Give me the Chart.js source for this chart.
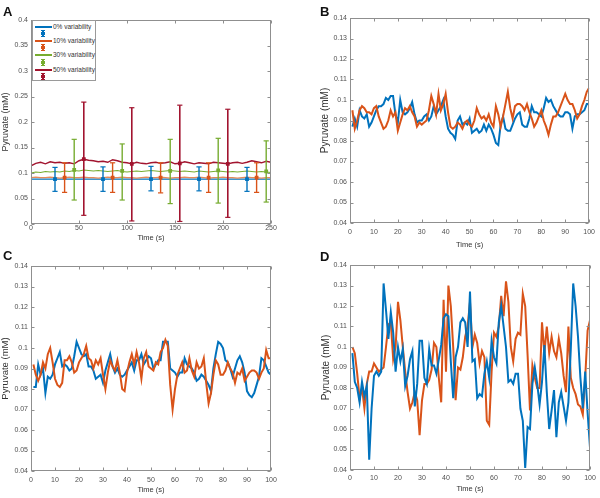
<!DOCTYPE html>
<html>
<head>
<meta charset="utf-8">
<script src="https://cdn.jsdelivr.net/npm/chart.js@4.4.0/dist/chart.umd.min.js"></script>
<style>
html,body{margin:0;padding:0;background:#fff;}
#fig{position:relative;width:600px;height:498px;overflow:hidden;font-family:"Liberation Sans",Arial,sans-serif;}
#fig canvas{position:absolute;}
.tag{position:absolute;font-weight:bold;font-size:13px;line-height:13px;color:#111;}
#legendA{position:absolute;left:32px;top:20px;width:62px;height:59px;border:1px solid #9a9a9a;background:#fff;}
.lgLine{position:absolute;left:2px;width:17px;height:1.5px;}
.lgText{position:absolute;left:20px;font-size:6.5px;line-height:7px;color:#333;white-space:nowrap;}
.lgBar{position:absolute;left:9px;width:1.5px;height:6px;}
.lgCap{position:absolute;left:7.5px;width:4.5px;height:1px;}
.lgDot{position:absolute;left:8px;width:3.5px;height:3px;}
</style>
</head>
<body>
<div id="fig">
  <canvas id="chartA" width="300" height="249" style="left:0;top:0"></canvas>
  <canvas id="chartB" width="300" height="249" style="left:300px;top:0"></canvas>
  <canvas id="chartC" width="300" height="249" style="left:0;top:249px"></canvas>
  <canvas id="chartD" width="300" height="249" style="left:300px;top:249px"></canvas>
  <div class="tag" style="left:3px;top:5px">A</div>
  <div class="tag" style="left:320px;top:5px">B</div>
  <div class="tag" style="left:3px;top:249px">C</div>
  <div class="tag" style="left:320px;top:250px">D</div>
  <div id="legendA"></div>
</div>
<script>
const FONT = '"Liberation Sans", Arial, sans-serif';
const BLUE = "#0072BD";
const ORANGE = "#D95319";
const GREEN = "#77AC30";
const CRIMSON = "#A2142F";
const AXIS_COLOR = "#8f8f8f";
const TICK_COLOR = "#505050";

// ---- panel A: mean traces (every 5 s) ----
const timeA = [0,5,10,15,20,25,30,35,40,45,50,55,60,65,70,75,80,85,90,95,100,105,110,115,120,125,130,135,140,145,150,155,160,165,170,175,180,185,190,195,200,205,210,215,220,225,230,235,240,245,250];
const aBlue = [0.088,0.088,0.088,0.088,0.088,0.088,0.088,0.088,0.088,0.088,0.088,0.088,0.088,0.088,0.088,0.088,0.088,0.088,0.088,0.088,0.088,0.088,0.088,0.088,0.088,0.088,0.088,0.088,0.088,0.088,0.088,0.088,0.088,0.088,0.088,0.088,0.088,0.088,0.088,0.088,0.088,0.088,0.088,0.088,0.088,0.088,0.088,0.088,0.088,0.088,0.088];
const aOrange = [0.091,0.092,0.091,0.091,0.092,0.091,0.090,0.091,0.092,0.091,0.091,0.092,0.091,0.091,0.090,0.091,0.092,0.091,0.091,0.092,0.091,0.091,0.090,0.091,0.092,0.091,0.091,0.092,0.091,0.090,0.091,0.091,0.092,0.091,0.091,0.092,0.091,0.090,0.091,0.091,0.092,0.091,0.091,0.090,0.091,0.092,0.091,0.091,0.090,0.091,0.091];
const aGreen = [0.100,0.102,0.101,0.103,0.102,0.103,0.102,0.104,0.103,0.105,0.104,0.106,0.105,0.104,0.105,0.104,0.103,0.104,0.105,0.103,0.102,0.103,0.104,0.103,0.104,0.105,0.104,0.103,0.104,0.105,0.104,0.103,0.104,0.103,0.102,0.104,0.103,0.102,0.103,0.104,0.103,0.102,0.103,0.102,0.103,0.104,0.103,0.102,0.103,0.102,0.101];
const aCrimson = [0.114,0.119,0.121,0.118,0.122,0.120,0.121,0.119,0.120,0.118,0.124,0.127,0.125,0.124,0.122,0.123,0.121,0.126,0.124,0.121,0.120,0.118,0.121,0.119,0.118,0.120,0.121,0.119,0.120,0.122,0.118,0.119,0.122,0.120,0.118,0.120,0.119,0.118,0.121,0.120,0.119,0.118,0.120,0.121,0.119,0.121,0.124,0.122,0.120,0.123,0.121];

// ---- panel A: error bars ----
const errBlueX = [25,75,125,175,225];
const errBlueMean = [0.088,0.088,0.088,0.088,0.088];
const errBlueLow = [0.064,0.064,0.065,0.065,0.064];
const errBlueHigh = [0.111,0.112,0.113,0.112,0.111];
const errOrangeX = [35,85,135,185,235];
const errOrangeMean = [0.091,0.091,0.091,0.091,0.091];
const errOrangeLow = [0.062,0.062,0.061,0.062,0.062];
const errOrangeHigh = [0.120,0.120,0.120,0.120,0.120];
const errGreenX = [45,95,145,195,245];
const errGreenMean = [0.106,0.104,0.104,0.105,0.103];
const errGreenLow = [0.047,0.047,0.040,0.041,0.043];
const errGreenHigh = [0.166,0.157,0.166,0.168,0.163];
const errCrimsonX = [55,105,155,205];
const errCrimsonMean = [0.127,0.118,0.119,0.118];
const errCrimsonLow = [0.017,0.006,0.005,0.013];
const errCrimsonHigh = [0.239,0.228,0.233,0.225];

const legendLabels = ["0% variability","10% variability","30% variability","50% variability"];
const legendColors = [BLUE, ORANGE, GREEN, CRIMSON];

// ---- panels B, C, D: single traces, t = 1..100 s ----
const timeSteps = [1,2,3,4,5,6,7,8,9,10,11,12,13,14,15,16,17,18,19,20,21,22,23,24,25,26,27,28,29,30,31,32,33,34,35,36,37,38,39,40,41,42,43,44,45,46,47,48,49,50,51,52,53,54,55,56,57,58,59,60,61,62,63,64,65,66,67,68,69,70,71,72,73,74,75,76,77,78,79,80,81,82,83,84,85,86,87,88,89,90,91,92,93,94,95,96,97,98,99,100];

const bBlue = [0.087,0.091,0.087,0.095,0.092,0.091,0.093,0.087,0.089,0.092,
  0.095,0.097,0.097,0.098,0.101,0.100,0.102,0.102,0.093,0.089,
  0.100,0.094,0.093,0.094,0.096,0.099,0.093,0.089,0.090,0.090,
  0.092,0.093,0.090,0.092,0.097,0.093,0.095,0.097,0.100,0.092,
  0.086,0.084,0.083,0.081,0.090,0.092,0.088,0.089,0.088,0.091,
  0.084,0.085,0.086,0.084,0.085,0.088,0.085,0.088,0.086,0.083,
  0.079,0.078,0.088,0.092,0.086,0.085,0.085,0.088,0.091,0.093,
  0.094,0.088,0.087,0.087,0.091,0.097,0.094,0.094,0.093,0.092,
  0.096,0.101,0.099,0.100,0.097,0.095,0.093,0.092,0.092,0.094,
  0.094,0.093,0.086,0.092,0.093,0.093,0.094,0.095,0.098,0.098];
const bOrange = [0.095,0.086,0.090,0.095,0.097,0.096,0.094,0.094,0.093,0.096,
  0.097,0.092,0.089,0.086,0.087,0.090,0.095,0.092,0.094,0.085,
  0.089,0.093,0.096,0.095,0.097,0.094,0.092,0.087,0.089,0.088,
  0.089,0.090,0.095,0.102,0.098,0.093,0.103,0.095,0.098,0.103,
  0.094,0.087,0.086,0.087,0.089,0.088,0.086,0.089,0.090,0.088,
  0.087,0.090,0.096,0.093,0.091,0.092,0.090,0.093,0.089,0.087,
  0.097,0.093,0.087,0.092,0.098,0.104,0.096,0.091,0.097,0.098,
  0.098,0.097,0.095,0.098,0.094,0.091,0.087,0.089,0.092,0.095,
  0.090,0.087,0.083,0.088,0.092,0.092,0.094,0.097,0.100,0.103,
  0.100,0.098,0.098,0.095,0.091,0.093,0.097,0.100,0.104,0.106];

const cBlue = [0.081,0.081,0.092,0.087,0.090,0.078,0.086,0.085,0.087,0.092,
  0.095,0.098,0.091,0.092,0.091,0.089,0.090,0.096,0.103,0.100,
  0.097,0.096,0.097,0.091,0.091,0.089,0.085,0.086,0.087,0.083,
  0.089,0.093,0.097,0.091,0.088,0.090,0.087,0.086,0.087,0.089,
  0.091,0.093,0.089,0.094,0.094,0.097,0.092,0.094,0.096,0.095,
  0.090,0.092,0.094,0.094,0.103,0.103,0.103,0.090,0.089,0.088,
  0.086,0.088,0.088,0.095,0.092,0.091,0.090,0.088,0.084,0.085,
  0.087,0.086,0.084,0.082,0.079,0.090,0.097,0.103,0.102,0.100,
  0.094,0.093,0.090,0.086,0.090,0.094,0.096,0.093,0.088,0.079,
  0.077,0.076,0.078,0.082,0.086,0.095,0.094,0.091,0.088,0.087];
const cOrange = [0.092,0.087,0.084,0.087,0.093,0.090,0.097,0.100,0.093,0.085,
  0.082,0.081,0.083,0.094,0.094,0.096,0.093,0.088,0.089,0.093,
  0.095,0.097,0.101,0.095,0.094,0.090,0.094,0.092,0.095,0.087,
  0.080,0.088,0.094,0.091,0.089,0.094,0.088,0.080,0.079,0.088,
  0.093,0.097,0.092,0.098,0.093,0.085,0.095,0.098,0.091,0.090,
  0.089,0.093,0.092,0.098,0.100,0.104,0.101,0.082,0.070,0.080,
  0.087,0.090,0.093,0.088,0.089,0.095,0.089,0.086,0.093,0.090,
  0.091,0.095,0.083,0.073,0.078,0.087,0.094,0.092,0.087,0.087,
  0.089,0.093,0.090,0.088,0.083,0.088,0.087,0.090,0.084,0.086,
  0.088,0.089,0.089,0.088,0.085,0.088,0.090,0.099,0.095,0.095];

const dBlue = [0.097,0.083,0.080,0.073,0.083,0.076,0.081,0.045,0.070,0.086,
  0.088,0.086,0.088,0.131,0.118,0.104,0.117,0.107,0.088,0.100,
  0.093,0.099,0.081,0.086,0.094,0.098,0.071,0.082,0.103,0.103,
  0.085,0.082,0.099,0.091,0.091,0.087,0.094,0.101,0.114,0.116,
  0.115,0.093,0.075,0.095,0.100,0.112,0.114,0.112,0.100,0.127,
  0.093,0.094,0.075,0.077,0.076,0.087,0.093,0.085,0.103,0.095,
  0.092,0.112,0.120,0.110,0.100,0.083,0.084,0.082,0.087,0.087,
  0.070,0.064,0.041,0.061,0.060,0.082,0.090,0.082,0.072,0.083,
  0.101,0.078,0.060,0.069,0.079,0.056,0.073,0.078,0.071,0.064,
  0.073,0.099,0.131,0.120,0.105,0.085,0.070,0.088,0.068,0.051];
const dOrange = [0.100,0.097,0.087,0.075,0.080,0.070,0.082,0.088,0.088,0.092,
  0.090,0.088,0.089,0.090,0.100,0.111,0.112,0.094,0.100,0.122,
  0.113,0.100,0.088,0.078,0.070,0.073,0.078,0.074,0.057,0.074,
  0.082,0.082,0.084,0.089,0.102,0.100,0.085,0.073,0.123,0.088,
  0.130,0.120,0.100,0.074,0.090,0.089,0.095,0.105,0.110,0.122,
  0.100,0.106,0.102,0.092,0.098,0.095,0.064,0.062,0.088,0.107,
  0.105,0.110,0.125,0.115,0.132,0.122,0.100,0.093,0.104,0.107,
  0.106,0.126,0.120,0.096,0.069,0.091,0.085,0.080,0.080,0.112,
  0.097,0.110,0.097,0.105,0.098,0.095,0.104,0.097,0.086,0.078,
  0.110,0.085,0.080,0.077,0.072,0.071,0.067,0.085,0.108,0.113];

function el(id){ return document.getElementById(id); }

function toPoints(xs, ys){
  return xs.map((x, i) => ({ x, y: ys[i] }));
}

function trace(xs, ys, color, width){
  return { data: toPoints(xs, ys), borderColor: color, borderWidth: width, pointRadius: 0, fill: false, order: 1 };
}

// one dataset per error bar: low cap, mean marker, high cap
function errorBars(xs, means, lows, highs, color, width){
  return xs.map((x, i) => ({
    data: [{ x, y: lows[i] }, { x, y: means[i] }, { x, y: highs[i] }],
    borderColor: color,
    borderWidth: width,
    pointStyle: ["line", "rect", "line"],
    pointRadius: [2.6, 1.8, 2.6],
    pointBorderColor: color,
    pointBackgroundColor: color,
    pointBorderWidth: 1.2,
    order: 0
  }));
}

// MATLAB-like box with inward ticks on all four sides
const boxPlugin = {
  id: "box",
  afterDraw(chart){
    const { ctx, chartArea: a, scales: { x, y } } = chart;
    const L = Math.round(a.left) + 0.5, R = Math.round(a.right) - 0.5;
    const T = Math.round(a.top) + 0.5, B = Math.round(a.bottom) - 0.5;
    ctx.save();
    ctx.strokeStyle = AXIS_COLOR;
    ctx.lineWidth = 1;
    ctx.strokeRect(L, T, R - L, B - T);
    ctx.beginPath();
    x.ticks.forEach(t => {
      const px = Math.round(x.getPixelForValue(t.value)) + 0.5;
      ctx.moveTo(px, B); ctx.lineTo(px, B - 3);
      ctx.moveTo(px, T); ctx.lineTo(px, T + 3);
    });
    y.ticks.forEach(t => {
      const py = Math.round(y.getPixelForValue(t.value)) + 0.5;
      ctx.moveTo(L, py); ctx.lineTo(L + 3, py);
      ctx.moveTo(R, py); ctx.lineTo(R - 3, py);
    });
    ctx.stroke();
    ctx.restore();
  }
};

function makePanel(id, p){
  return new Chart(el(id), {
    type: "line",
    data: { datasets: p.datasets },
    options: {
      responsive: false,
      animation: false,
      devicePixelRatio: 1,
      layout: { padding: { top: p.padTop, right: p.padRight, left: 0, bottom: 0 } },
      plugins: { legend: { display: false }, tooltip: { enabled: false } },
      elements: { line: { tension: 0 } },
      scales: {
        x: {
          type: "linear", min: p.xMin, max: p.xMax,
          ticks: { stepSize: p.xStep, color: TICK_COLOR, font: { size: 7, family: FONT }, padding: p.xTickPad, maxRotation: 0, autoSkip: false },
          grid: { display: false, drawTicks: false },
          border: { display: false },
          title: { display: true, text: "Time (s)", color: "#333", font: { size: 7.5, family: FONT }, padding: { top: 0, bottom: p.xTitlePad } },
          afterFit: s => { s.height = p.xAxisH; }
        },
        y: {
          type: "linear", min: p.yMin, max: p.yMax,
          ticks: { stepSize: p.yStep, color: TICK_COLOR, font: { size: 7, family: FONT }, padding: 3, autoSkip: false,
                   callback: v => String(Number(v.toFixed(3))) },
          grid: { display: false, drawTicks: false },
          border: { display: false },
          title: { display: true, text: "Pyruvate (mM)", color: "#333", font: { size: p.yTitleSize, family: FONT }, padding: { top: p.yTitlePad, bottom: 0 } },
          afterFit: s => { s.width = p.yAxisW; }
        }
      }
    },
    plugins: [boxPlugin]
  });
}

function buildLegend(){
  const box = el("legendA");
  const lineY = [5, 19, 33, 48];
  const iconY = [12, 26, 41, 55];
  box.innerHTML = legendLabels.map((lab, i) => {
    const c = legendColors[i];
    const iy = iconY[i];
    return `
      <div class="lgLine" style="top:${lineY[i]}px;background:${c}"></div>
      <div class="lgText" style="top:${lineY[i] - 3}px">${lab}</div>
      <div class="lgBar" style="top:${iy - 3}px;background:${c}"></div>
      <div class="lgCap" style="top:${iy - 3}px;background:${c}"></div>
      <div class="lgCap" style="top:${iy + 2.5}px;background:${c}"></div>
      <div class="lgDot" style="top:${iy - 1.5}px;background:${c}"></div>`;
  }).join("");
}

const panelADatasets = [
  ...errorBars(errCrimsonX, errCrimsonMean, errCrimsonLow, errCrimsonHigh, CRIMSON, 1.6),
  ...errorBars(errGreenX, errGreenMean, errGreenLow, errGreenHigh, GREEN, 1.4),
  ...errorBars(errOrangeX, errOrangeMean, errOrangeLow, errOrangeHigh, ORANGE, 1.4),
  ...errorBars(errBlueX, errBlueMean, errBlueLow, errBlueHigh, BLUE, 1.4),
  trace(timeA, aCrimson, CRIMSON, 1.4),
  trace(timeA, aGreen, GREEN, 1.1),
  trace(timeA, aOrange, "#E58A5A", 1.1),
  trace(timeA, aBlue, BLUE, 1.2)
];

makePanel("chartA", {
  datasets: panelADatasets,
  xMin: 0, xMax: 250, xStep: 50, yMin: 0, yMax: 0.4, yStep: 0.05,
  padTop: 20, padRight: 29, yAxisW: 31, xAxisH: 25,
  xTickPad: 0, xTitlePad: 6.5, yTitleSize: 9, yTitlePad: 0
});
makePanel("chartB", {
  datasets: [trace(timeSteps, bOrange, ORANGE, 2), trace(timeSteps, bBlue, BLUE, 2)],
  xMin: 0, xMax: 100, xStep: 10, yMin: 0.04, yMax: 0.14, yStep: 0.01,
  padTop: 18, padRight: 10, yAxisW: 50, xAxisH: 26,
  xTickPad: 5, xTitlePad: 0, yTitleSize: 10, yTitlePad: 19
});
makePanel("chartC", {
  datasets: [trace(timeSteps, cOrange, ORANGE, 2), trace(timeSteps, cBlue, BLUE, 2)],
  xMin: 0, xMax: 100, xStep: 10, yMin: 0.04, yMax: 0.14, yStep: 0.01,
  padTop: 17, padRight: 29, yAxisW: 31, xAxisH: 27,
  xTickPad: 5, xTitlePad: 3.5, yTitleSize: 9.5, yTitlePad: 0
});
makePanel("chartD", {
  datasets: [trace(timeSteps, dBlue, BLUE, 2), trace(timeSteps, dOrange, ORANGE, 2)],
  xMin: 0, xMax: 100, xStep: 10, yMin: 0.04, yMax: 0.14, yStep: 0.01,
  padTop: 16, padRight: 10, yAxisW: 50, xAxisH: 28,
  xTickPad: 4, xTitlePad: 5, yTitleSize: 10, yTitlePad: 20
});
buildLegend();
</script>
</body>
</html>
